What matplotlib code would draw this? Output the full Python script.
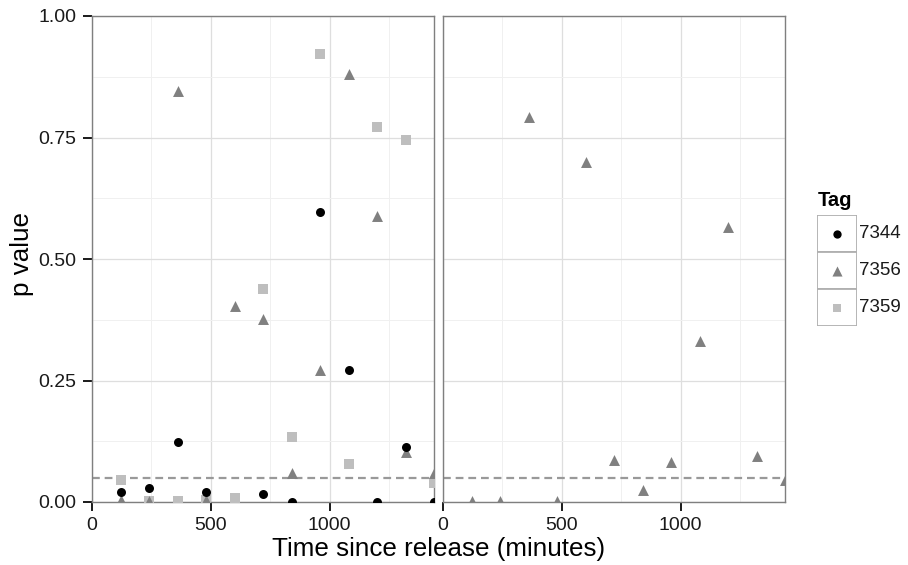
import numpy as np
import matplotlib
matplotlib.use("Agg")
import matplotlib.pyplot as plt
from matplotlib.patches import Rectangle

plt.rcParams['font.family'] = ['Liberation Sans', 'DejaVu Sans']

times = [120, 240, 360, 480, 600, 720, 840, 960, 1080, 1200, 1320, 1440]

# left panel
p7344_left = [0.021, 0.028, 0.123, 0.021, np.nan, 0.016, 0.0, 0.597, 0.271, 0.001, 0.113, 0.0]
p7356_left = [0.005, 0.003, 0.845, 0.004, 0.403, 0.376, 0.06, 0.272, 0.88, 0.588, 0.103, 0.06]
p7359_left = [0.045, 0.003, 0.002, 0.004, 0.008, 0.438, 0.134, 0.922, 0.078, 0.772, 0.745, 0.039]
# right panel
p7356_right = [0.003, 0.003, 0.792, 0.003, 0.70, 0.086, 0.025, 0.082, 0.331, 0.566, 0.095, 0.045]

tags = ['7344', '7356', '7359']
threshold = 0.05
x_ticks = [0, 500, 1000]
y_ticks = [0.00, 0.25, 0.50, 0.75, 1.00]
y_ticklabels = ['0.00', '0.25', '0.50', '0.75', '1.00']

styles = {
    '7344': dict(marker='o', color='#000000', s=42),
    '7356': dict(marker='^', color='#808080', s=62),
    '7359': dict(marker='s', color='#BEBEBE', s=46),
}

W, H = 908, 565
fig = plt.figure(figsize=(W / 100, H / 100), dpi=100)

def px_axes(x0, y0, x1, y1):
    return fig.add_axes([x0 / W, 1 - y1 / H, (x1 - x0) / W, (y1 - y0) / H])

axL = px_axes(92, 16, 434, 502)
axR = px_axes(443, 16, 785, 502)

for ax in (axL, axR):
    ax.set_xlim(0, 1440)
    ax.set_ylim(0, 1)
    ax.set_xticks(x_ticks)
    ax.set_xticks([250, 750, 1250], minor=True)
    ax.set_yticks(y_ticks)
    ax.set_yticks([0.125, 0.375, 0.625, 0.875], minor=True)
    ax.grid(which='major', color='#DEDEDE', linewidth=0.9)
    ax.grid(which='minor', color='#F0F0F0', linewidth=0.7)
    ax.set_axisbelow(True)
    for sp in ax.spines.values():
        sp.set_color('#7F7F7F')
        sp.set_linewidth(1.0)
    ax.tick_params(which='major', direction='out', length=6.5, width=1.4, color='#1a1a1a',
                   labelsize=14, labelcolor='#1a1a1a')
    ax.tick_params(axis='x', which='major', pad=4)
    ax.tick_params(axis='y', which='major', pad=4.5)
    ax.tick_params(which='minor', length=0)
    ax.axhline(threshold, color='#999999', linestyle=(0, (3.5, 2.2)), linewidth=1.6, zorder=2)

axL.set_yticklabels(y_ticklabels)
axR.tick_params(axis='y', which='both', left=False, labelleft=False)

axL.scatter(times, p7359_left, zorder=3, clip_on=True, linewidths=0, **styles['7359'])
axL.scatter(times, p7356_left, zorder=4, clip_on=True, linewidths=0, **styles['7356'])
axL.scatter(times, p7344_left, zorder=5, clip_on=True, linewidths=0, **styles['7344'])
axR.scatter(times, p7356_right, zorder=4, clip_on=True, linewidths=0, **styles['7356'])

fig.text(22 / W, 1 - 254 / H, 'p value', ha='center', va='center', rotation=90, fontsize=18.7)
fig.text((92 + 785) / 2 / W, 1 - 549 / H, 'Time since release (minutes)', ha='center', va='center', fontsize=18.7)

# legend
lg = px_axes(817, 215, 857, 326)
lg.set_xlim(0, 1)
lg.set_ylim(0, 3)
lg.axis('off')
for i, t in enumerate(tags):
    y0 = 2 - i
    lg.add_patch(Rectangle((0, y0), 1, 1, facecolor='white', edgecolor='#B0B0B0', linewidth=1.3))
    st = styles[t]
    lg.scatter([0.5], [y0 + 0.5], marker=st['marker'], color=st['color'], s=st['s'] * 0.85, linewidths=0, zorder=3)
    lg.text(1.05, y0 + 0.5, t, ha='left', va='center', fontsize=13.5, color='#1a1a1a')
fig.text(818 / W, 1 - 200 / H, 'Tag', ha='left', va='center', fontsize=14.5, fontweight='bold')

fig.savefig('out.png', dpi=100)
